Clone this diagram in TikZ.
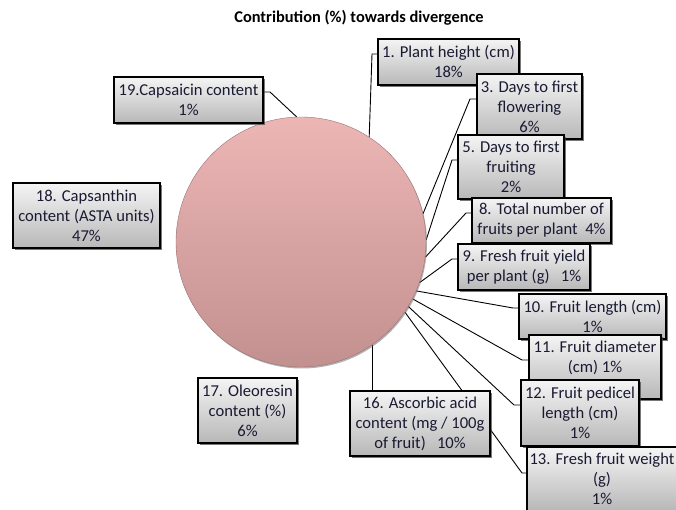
\documentclass[tikz,border=0pt]{standalone}
\usepackage{fontspec}
\setmainfont{Carlito}
\usetikzlibrary{shadows,backgrounds}
\definecolor{pietop}{HTML}{ECB6B5}
\definecolor{piebot}{HTML}{C39090}
\definecolor{lbltext}{HTML}{1A1A33}
\begin{document}
\begin{tikzpicture}[x=1pt, y=-1pt,
    lbl/.style={draw=black, line width=1.1pt, top color=black!4, bottom color=black!28,
      drop shadow={shadow xshift=2pt, shadow yshift=-2pt, fill=black!75, opacity=.7},
      align=center, inner sep=0pt, text=lbltext, font=\fontsize{16.6}{20}\selectfont},
    lead/.style={line width=.9pt}]
    \useasboundingbox (0,0) rectangle (676,510);
    \node[font=\bfseries\fontsize{16.4}{18}\selectfont] (title) at (359,18) {Contribution (\%) towards divergence};
    % the pie
    \node[circle, minimum size=250pt, inner sep=0pt, top color=pietop, bottom color=piebot,
      draw=piebot!80!black, line width=.4pt,
      drop shadow={shadow xshift=1pt, shadow yshift=-1.5pt, fill=black!60, opacity=.5}] (pie) at (301,242) {};
    % labels
    \foreach \n/\x/\y/\w/\h/\t in {
      1/448.5/62/141/46/{1. Plant height (cm)\\18\%},
      3/529.5/106.5/105/65/{3. Days to first\\flowering\\6\%},
      5/511/167/106/64/{5. Days to first\\fruiting\\2\%},
      8/541.5/220.5/139/45/{8. Total number of\\fruits per plant\ \ 4\%},
      9/524/267/132/46/{9. Fresh fruit yield\\per plant (g)\ \ \ 1\%},
      10/592.5/316.5/147/45/{10. Fruit length (cm)\\1\%},
      11/595/367/132/64/{11. Fruit diameter\\(cm) 1\%\\~},
      12/580/413/118/66/{12. Fruit pedicel\\length (cm)\\1\%},
      13/602/479/150/64/{13. Fresh fruit weight\\(g)\\1\%},
      16/420/423.5/140/65/{16. Ascorbic acid\\content (mg / 100g\\of fruit)\ \ \ 10\%},
      17/247.5/410.5/99/65/{17. Oleoresin\\content (\%)\\6\%},
      18/86.5/215.5/147/65/{18. Capsanthin\\content (ASTA units)\\47\%},
      19/188.5/100/149/46/{19.Capsaicin content\\1\%}}
    \node[lbl, minimum width=\w, minimum height=\h] (b\n) at (\x,\y) {\t};
    % leader lines
    \begin{pgfonlayer}{background}
    \foreach \n/\a/\x/\y in {1/57/372/54, 3/13.5/470/99, 5/1/452/160, 8/-7.3/466/213,
      9/-19/452/259, 10/-23.5/513/308, 11/-27.4/522/360, 12/-31.3/514/405, 13/-34/522/473}
    \draw[lead] (pie.\a) -- (\x,\y) coordinate (k\n) -- (k\n -| b\n.west);
    \draw[lead] (pie.92) -- (270,92) coordinate (k19) -- (k19 -| b19.east);
    \draw[lead] (pie.-55) -- (pie.-55 |- b16.north);
    \end{pgfonlayer}
\end{tikzpicture}
\end{document}
